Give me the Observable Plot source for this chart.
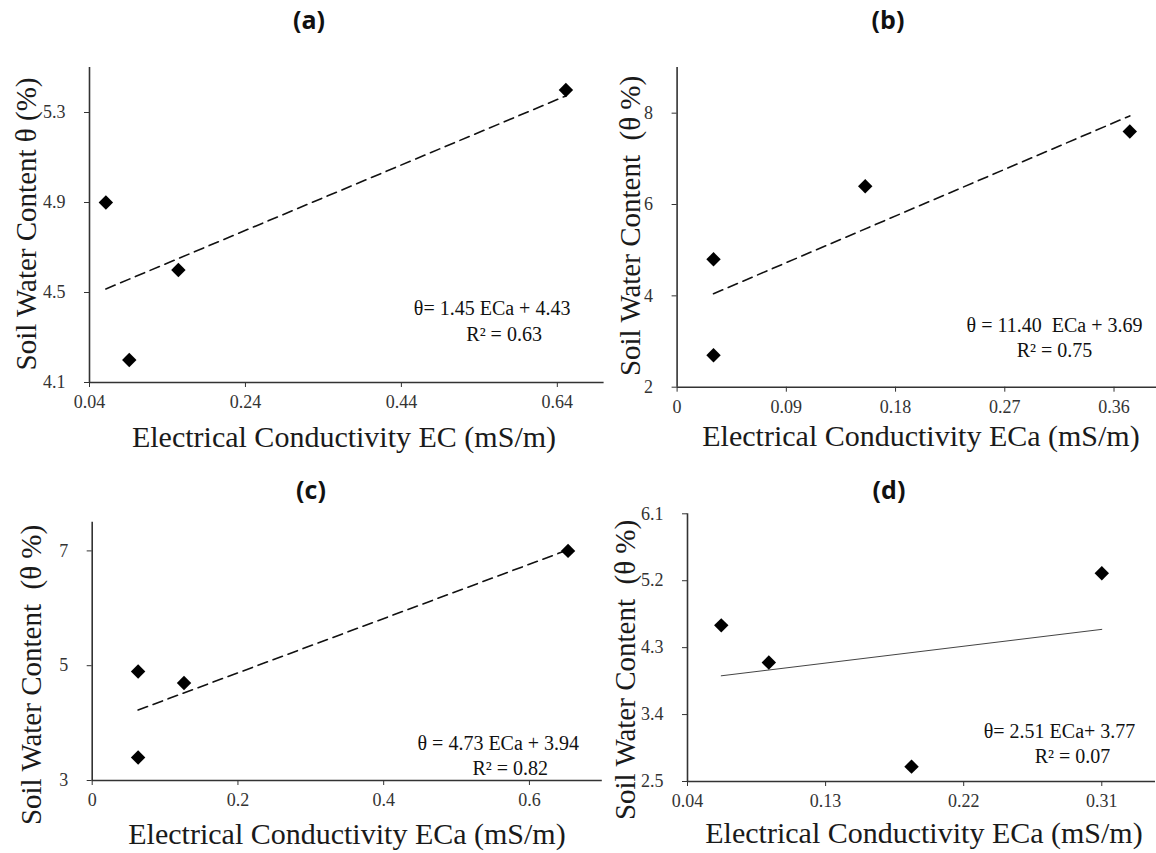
<!DOCTYPE html>
<html><head><meta charset="utf-8">
<script src="https://cdn.jsdelivr.net/npm/d3@7"></script>
<script src="https://cdn.jsdelivr.net/npm/@observablehq/plot@0.6"></script>
<style>
body{margin:0;background:#fff;}
#root{position:relative;width:1156px;height:853px;overflow:hidden;background:#fff;}
.panel{position:absolute;}
.lbl{position:absolute;transform:translate(-50%,-50%);white-space:pre;color:#1a1a1a;line-height:1;}
.ylbl{transform:translate(-50%,-50%) rotate(-90deg);}
.ttl{position:absolute;transform:translate(-50%,-50%);font-weight:700;font-size:25px;color:#111;line-height:1;}
</style></head><body><div id="root"></div>
<script>
// ---- data ----
const ecA = [0.061, 0.091, 0.154, 0.651];
const thetaA = [4.9, 4.2, 4.6, 5.4];
const ecB = [0.03, 0.03, 0.155, 0.373];
const thetaB = [4.8, 2.7, 6.4, 7.6];
const ecC = [0.063, 0.063, 0.126, 0.653];
const thetaC = [4.9, 3.4, 4.7, 7.0];
const ecD = [0.062, 0.093, 0.186, 0.31];
const thetaD = [4.6, 4.1, 2.7, 5.3];

const xTicksA = [0.04, 0.24, 0.44, 0.64];
const yTicksA = [4.1, 4.5, 4.9, 5.3];
const xTicksB = [0, 0.09, 0.18, 0.27, 0.36];
const yTicksB = [2, 4, 6, 8];
const xTicksC = [0, 0.2, 0.4, 0.6];
const yTicksC = [3, 5, 7];
const xTicksD = [0.04, 0.13, 0.22, 0.31];
const yTicksD = [2.5, 3.4, 4.3, 5.2, 6.1];

const titles = ["(a)", "(b)", "(c)", "(d)"];
const equations = ["θ= 1.45 ECa + 4.43", "θ = 11.40  ECa + 3.69", "θ = 4.73 ECa + 3.94", "θ= 2.51 ECa+ 3.77"];
const r2Labels = ["R² = 0.63", "R² = 0.75", "R² = 0.82", "R² = 0.07"];
const xLabels = ["Electrical Conductivity EC (mS/m)", "Electrical Conductivity ECa (mS/m)", "Electrical Conductivity ECa (mS/m)", "Electrical Conductivity ECa (mS/m)"];
const yLabels = ["Soil Water Content θ (%)", "Soil Water Content  (θ %)", "Soil Water Content  (θ %)", "Soil Water Content  (θ %)"];

// ---- layout ----
const SERIF = "'Liberation Serif', 'Times New Roman', 'DejaVu Serif', serif";
const SANS = "'Open Sans', 'Liberation Sans', sans-serif";
const panels = [
  {ec: ecA, th: thetaA, xt: xTicksA, yt: yTicksA, xd: [0.04, 0.70], yd: [4.1, 5.5], dashed: true,
   left: 0, top: 0, w: 610, h: 425, ml: 89, mr: 6.4, mt: 67, mb: 43,
   eq: [-112, -74], r2: [-100, -48], title: [309, 19], xl: [344, 437], yl: [26, 224]},
  {ec: ecB, th: thetaB, xt: xTicksB, yt: yTicksB, xd: [0, 0.395], yd: [2, 9], dashed: true,
   left: 576, top: 0, w: 580, h: 425, ml: 100.6, mr: 0, mt: 67, mb: 38.3,
   eq: [-102, -62], r2: [-102, -37], title: [888, 19], xl: [921, 436], yl: [630, 226]},
  {ec: ecC, th: thetaC, xt: xTicksC, yt: yTicksC, xd: [0, 0.7], yd: [3, 7.5], dashed: true,
   left: 0, top: 425, w: 610, h: 428, ml: 91.7, mr: 8.2, mt: 96.7, mb: 73,
   eq: [-104, -37], r2: [-92, -12], title: [311, 489], xl: [347, 834], yl: [31, 675]},
  {ec: ecD, th: thetaD, xt: xTicksD, yt: yTicksD, xd: [0.04, 0.345], yd: [2.5, 6.1], dashed: false,
   left: 576, top: 425, w: 580, h: 428, ml: 111, mr: 1, mt: 88.3, mb: 72,
   eq: [-96, -50], r2: [-83, -25], title: [889, 489], xl: [924, 833], yl: [625, 670]}
];

const root = document.getElementById("root");
const fmt = d => String(d);

panels.forEach((p, i) => {
  const data = p.ec.map((x, k) => ({ec: x, theta: p.th[k]}));
  const svg = Plot.plot({
    width: p.w, height: p.h,
    marginLeft: p.ml, marginRight: p.mr, marginTop: p.mt, marginBottom: p.mb,
    style: {fontFamily: SERIF, background: "transparent", overflow: "visible", maxWidth: "none"},
    x: {domain: p.xd},
    y: {domain: p.yd},
    marks: [
      Plot.axisX({ticks: p.xt, tickFormat: fmt, tickSize: 5, tickPadding: 8, fontSize: 18, fontFamily: SERIF, label: null, stroke: "#333", color: "#333"}),
      Plot.axisY({ticks: p.yt, tickFormat: fmt, tickSize: 5, tickPadding: 19, fontSize: 18, fontFamily: SERIF, label: null, stroke: "#333", color: "#333"}),
      Plot.ruleY([p.yd[0]], {stroke: "#333", strokeWidth: 1.6}),
      Plot.ruleX([p.xd[0]], {stroke: "#333", strokeWidth: 1.6}),
      Plot.linearRegressionY(data, {x: "ec", y: "theta", ci: 0,
        stroke: p.dashed ? "#111" : "#444", strokeWidth: p.dashed ? 1.6 : 1,
        strokeDasharray: p.dashed ? "10,6" : null}),
      Plot.dot(data, {x: "ec", y: "theta", symbol: "diamond2", r: 6.5, fill: "#000", stroke: null}),
      Plot.text([equations[i]], {frameAnchor: "bottom-right", dx: p.eq[0], dy: p.eq[1], textAnchor: "middle", lineAnchor: "middle", fontSize: 20, fontFamily: SERIF, fill: "#111"}),
      Plot.text([r2Labels[i]], {frameAnchor: "bottom-right", dx: p.r2[0], dy: p.r2[1], textAnchor: "middle", lineAnchor: "middle", fontSize: 20, fontFamily: SERIF, fill: "#111"})
    ]
  });
  const wrap = document.createElement("div");
  wrap.className = "panel";
  wrap.style.left = p.left + "px";
  wrap.style.top = p.top + "px";
  wrap.appendChild(svg);
  root.appendChild(wrap);

  const t = document.createElement("div");
  t.className = "ttl"; t.textContent = titles[i];
  t.style.fontFamily = SANS;
  t.style.left = p.title[0] + "px"; t.style.top = p.title[1] + "px";
  root.appendChild(t);

  const xl = document.createElement("div");
  xl.className = "lbl"; xl.textContent = xLabels[i];
  xl.style.fontFamily = SERIF;
  xl.style.fontSize = "30px";
  xl.style.left = p.xl[0] + "px"; xl.style.top = p.xl[1] + "px";
  root.appendChild(xl);

  const yl = document.createElement("div");
  yl.className = "lbl ylbl"; yl.textContent = yLabels[i];
  yl.style.fontFamily = SERIF;
  yl.style.fontSize = "29px";
  yl.style.left = p.yl[0] + "px"; yl.style.top = p.yl[1] + "px";
  root.appendChild(yl);
});
</script></body></html>
